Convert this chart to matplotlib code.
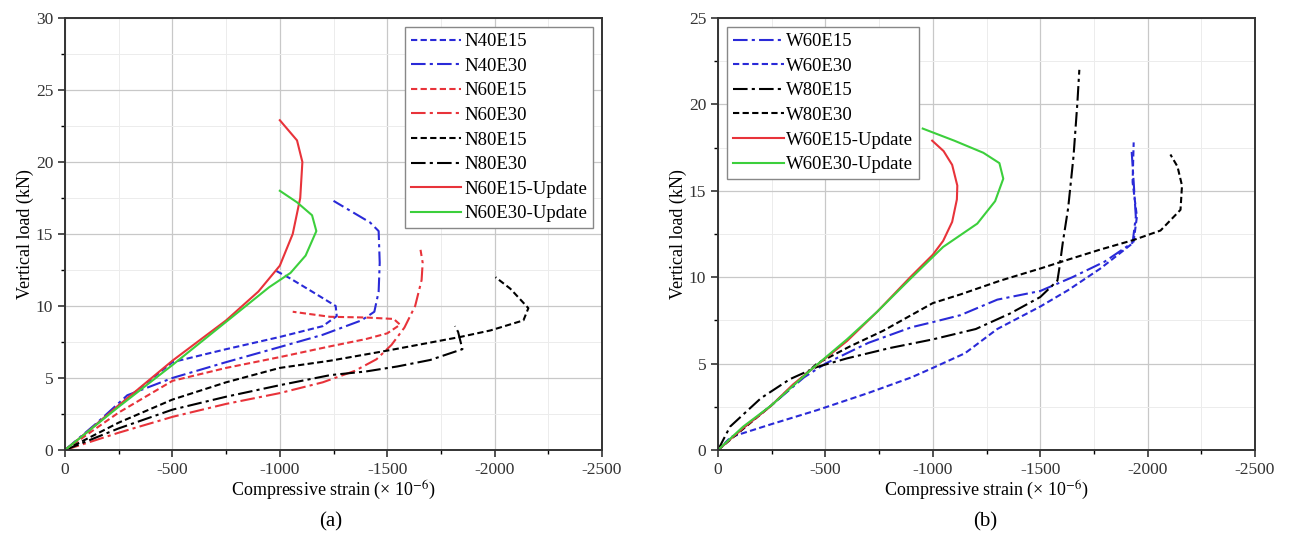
import numpy as np
import matplotlib.pyplot as plt
from matplotlib.ticker import MultipleLocator

plt.rcParams['font.family'] = ['Liberation Serif', 'DejaVu Serif']
plt.rcParams['mathtext.fontset'] = 'stix'
plt.rcParams['axes.unicode_minus'] = False

# ---------- (a) N series: strain (x 10^-6) and load (kN) ----------
n40e15_x = [0, -100, -250, -500, -750, -1000, -1200, -1265, -1260, -1150, -1050, -975]
n40e15_y = [0, 1.2, 3.1, 6.1, 7.0, 7.85, 8.6, 9.3, 10.0, 11.0, 11.9, 12.5]
n40e30_x = [0, -150, -290, -500, -750, -1000, -1200, -1380, -1440, -1460, -1465, -1460, -1420, -1250]
n40e30_y = [0, 1.9, 3.8, 5.0, 6.1, 7.15, 8.0, 9.0, 9.6, 11.0, 13.0, 15.2, 15.8, 17.3]
n60e15_x = [0, -250, -500, -750, -1000, -1235, -1400, -1500, -1560, -1530, -1400, -1233, -1060]
n60e15_y = [0, 2.6, 4.8, 5.7, 6.45, 7.2, 7.7, 8.1, 8.7, 9.1, 9.2, 9.25, 9.6]
n60e30_x = [0, -250, -500, -750, -1000, -1200, -1350, -1450, -1520, -1580, -1630, -1660, -1665, -1655]
n60e30_y = [0, 1.2, 2.3, 3.2, 3.95, 4.7, 5.5, 6.3, 7.3, 8.5, 10.0, 11.8, 13.0, 13.9]
n80e15_x = [0, -250, -500, -750, -1000, -1235, -1500, -1840, -1980, -2134, -2157, -2073, -2004]
n80e15_y = [0, 1.9, 3.5, 4.7, 5.7, 6.2, 6.9, 7.85, 8.3, 9.0, 9.85, 11.2, 12.0]
n80e30_x = [0, -250, -500, -750, -1000, -1235, -1400, -1547, -1700, -1850, -1840, -1830, -1815]
n80e30_y = [0, 1.5, 2.8, 3.7, 4.5, 5.2, 5.45, 5.8, 6.25, 7.0, 7.6, 8.2, 8.6]
n60e15u_x = [0, -100, -250, -500, -750, -900, -1000, -1060, -1095, -1105, -1080, -1000]
n60e15u_y = [0, 1.2, 3.1, 6.2, 9.0, 11.0, 12.8, 15.0, 17.5, 20.0, 21.5, 22.9]
n60e30u_x = [0, -250, -500, -750, -950, -1050, -1120, -1170, -1150, -1080, -1000]
n60e30u_y = [0, 3.0, 5.9, 8.9, 11.3, 12.3, 13.5, 15.2, 16.3, 17.2, 18.0]

# ---------- (b) W series ----------
w60e15_x = [0, -100, -250, -400, -500, -700, -900, -1000, -1128, -1300, -1500, -1650, -1800, -1930, -1945, -1935, -1925]
w60e15_y = [0, 1.1, 2.6, 4.2, 5.0, 6.2, 7.1, 7.4, 7.8, 8.7, 9.2, 10.0, 10.9, 12.0, 13.5, 15.5, 17.4]
w60e30_x = [0, -60, -250, -460, -700, -900, -1000, -1150, -1300, -1500, -1630, -1780, -1934, -1950, -1930, -1935]
w60e30_y = [0, 0.75, 1.5, 2.3, 3.3, 4.2, 4.75, 5.6, 7.0, 8.3, 9.25, 10.5, 12.0, 13.5, 15.5, 17.8]
w80e15_x = [0, -56, -200, -335, -460, -600, -800, -1000, -1200, -1360, -1500, -1580, -1590, -1605, -1630, -1655, -1673, -1682]
w80e15_y = [0, 1.35, 3.0, 4.1, 4.8, 5.3, 5.9, 6.4, 7.0, 7.9, 8.85, 9.8, 10.6, 12.0, 14.0, 17.0, 20.1, 22.0]
w80e30_x = [0, -250, -461, -615, -769, -1000, -1128, -1314, -1500, -1626, -1780, -1934, -2060, -2153, -2160, -2139, -2106]
w80e30_y = [0, 2.6, 5.0, 6.0, 6.9, 8.5, 9.0, 9.8, 10.5, 11.0, 11.6, 12.15, 12.7, 13.9, 15.3, 16.4, 17.1]
w60e15u_x = [0, -120, -242, -350, -489, -600, -741, -895, -1000, -1048, -1090, -1112, -1114, -1090, -1050, -997]
w60e15u_y = [0, 1.3, 2.5, 3.8, 5.2, 6.3, 8.0, 10.0, 11.3, 12.1, 13.2, 14.5, 15.3, 16.5, 17.3, 17.9]
w60e30u_x = [0, -117, -250, -429, -600, -741, -895, -1048, -1207, -1290, -1328, -1310, -1235, -1100, -953]
w60e30u_y = [0, 1.35, 2.6, 4.6, 6.4, 8.0, 9.9, 11.75, 13.1, 14.4, 15.7, 16.6, 17.2, 17.9, 18.6]

BLUE = '#2a2ad8'
RED = '#e8333a'
GREEN = '#3ccf3c'
DASH = (0, (3, 1.6))
DASHDOT = (0, (7, 2, 1.5, 2))

series_a = [
    ('N40E15', n40e15_x, n40e15_y, BLUE, DASH),
    ('N40E30', n40e30_x, n40e30_y, BLUE, DASHDOT),
    ('N60E15', n60e15_x, n60e15_y, RED, DASH),
    ('N60E30', n60e30_x, n60e30_y, RED, DASHDOT),
    ('N80E15', n80e15_x, n80e15_y, 'black', DASH),
    ('N80E30', n80e30_x, n80e30_y, 'black', DASHDOT),
    ('N60E15-Update', n60e15u_x, n60e15u_y, RED, '-'),
    ('N60E30-Update', n60e30u_x, n60e30u_y, GREEN, '-'),
]
series_b = [
    ('W60E15', w60e15_x, w60e15_y, BLUE, DASHDOT),
    ('W60E30', w60e30_x, w60e30_y, BLUE, DASH),
    ('W80E15', w80e15_x, w80e15_y, 'black', DASHDOT),
    ('W80E30', w80e30_x, w80e30_y, 'black', DASH),
    ('W60E15-Update', w60e15u_x, w60e15u_y, RED, '-'),
    ('W60E30-Update', w60e30u_x, w60e30u_y, GREEN, '-'),
]


def style_axes(ax, ymax):
    ax.set_xlim(0, -2500)
    ax.set_ylim(0, ymax)
    ax.xaxis.set_major_locator(MultipleLocator(500))
    ax.xaxis.set_minor_locator(MultipleLocator(250))
    ax.yaxis.set_major_locator(MultipleLocator(5))
    ax.yaxis.set_minor_locator(MultipleLocator(2.5))
    ax.grid(True, which='major', color='#c8c8c8', linewidth=0.9)
    ax.grid(True, which='minor', color='#ececec', linewidth=0.7)
    ax.set_axisbelow(True)
    for sp in ax.spines.values():
        sp.set_linewidth(1.4)
        sp.set_color('#333333')
    ax.tick_params(which='major', direction='out', length=5, width=1.2, labelsize=12.5, colors='#333333')
    ax.tick_params(which='minor', direction='out', length=3, width=1.0)
    ax.set_xlabel('Compressive strain (× 10$^{-6}$)', fontsize=13, labelpad=1)
    ax.set_ylabel('Vertical load (kN)', fontsize=13, labelpad=1)


fig = plt.figure(figsize=(12.9, 5.4), dpi=100)
ax1 = fig.add_axes([0.0504, 0.1667, 0.4163, 0.8])
ax2 = fig.add_axes([0.5566, 0.1667, 0.4163, 0.8])

for name, x, y, c, ls in series_a:
    ax1.plot(x, y, color=c, linestyle=ls, linewidth=1.5, label=name)
for name, x, y, c, ls in series_b:
    ax2.plot(x, y, color=c, linestyle=ls, linewidth=1.5, label=name)

style_axes(ax1, 30)
style_axes(ax2, 25)

for ax, loc in [(ax1, 'upper right'), (ax2, 'upper left')]:
    leg = ax.legend(loc=loc, fontsize=13.5, handlelength=2.7, handletextpad=0.15,
                    labelspacing=0.4, borderpad=0.3, fancybox=False, framealpha=1,
                    borderaxespad=0.5)
    leg.get_frame().set_edgecolor('#888888')
    leg.get_frame().set_linewidth(1.0)

fig.text(0.256, 0.033, '(a)', fontsize=15, ha='center', va='center')
fig.text(0.764, 0.033, '(b)', fontsize=15, ha='center', va='center')

fig.savefig('out.png', dpi=100)
